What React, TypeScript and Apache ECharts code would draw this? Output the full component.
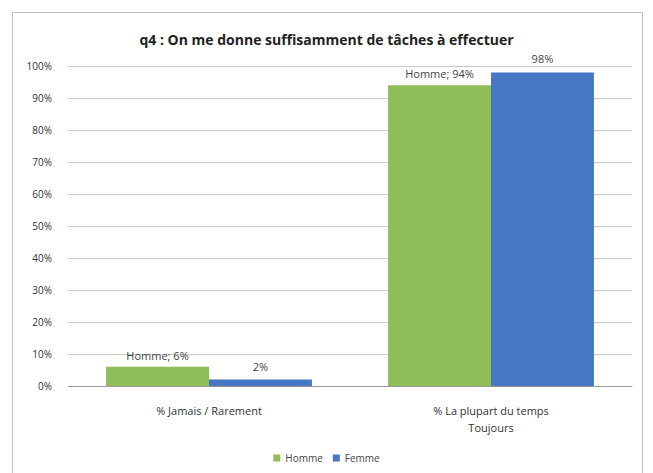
import React, { useEffect, useRef } from "react";
import * as echarts from "echarts";

const categories = ["% Jamais / Rarement", "% La plupart du temps\nToujours"];
const homme = [6, 94];
const femme = [2, 98];
const yTicks = [0, 10, 20, 30, 40, 50, 60, 70, 80, 90, 100];
const title = "q4 : On me donne suffisamment de tâches à effectuer";

const FONT = "'Open Sans', 'Liberation Sans', sans-serif";

export default function App() {
  const ref = useRef<HTMLDivElement>(null);
  useEffect(() => {
    document.body.style.margin = "0";
    const chart = echarts.init(ref.current!, null, { renderer: "svg" });
    chart.setOption({
      animation: false,
      backgroundColor: "#ffffff",
      textStyle: { fontFamily: FONT },
      graphic: [
        {
          type: "rect",
          shape: { x: 12.5, y: 12.5, width: 630, height: 470 },
          style: { fill: "none", stroke: "#bfbfbf", lineWidth: 1 },
          silent: true,
        },
      ],
      title: {
        text: title,
        left: "center",
        top: 27,
        textStyle: { fontFamily: FONT, fontSize: 14, fontWeight: "bold", color: "#222" },
      },
      legend: {
        bottom: 5,
        left: "center",
        itemWidth: 7,
        itemHeight: 7,
        itemGap: 10,
        icon: "rect",
        textStyle: { fontFamily: FONT, fontSize: 10, color: "#444" },
        data: ["Homme", "Femme"],
      },
      grid: { left: 68, right: 21, top: 66, bottom: 87, containLabel: false },
      xAxis: {
        type: "category",
        data: categories,
        axisLine: { lineStyle: { color: "#999" } },
        axisTick: { show: false },
        axisLabel: { fontFamily: FONT, fontSize: 11, color: "#333", margin: 16, lineHeight: 17 },
      },
      yAxis: {
        type: "value",
        min: 0,
        max: 100,
        interval: 10,
        axisLine: { show: false },
        axisTick: { show: false },
        splitLine: { lineStyle: { color: "#c8c8c8" } },
        axisLabel: {
          fontFamily: FONT,
          fontSize: 10,
          color: "#333",
          margin: 16,
          formatter: (v: number) => (yTicks.includes(v) ? v + "%" : ""),
        },
      },
      series: [
        {
          name: "Homme",
          type: "bar",
          data: homme,
          barGap: "0%",
          barCategoryGap: "27%",
          itemStyle: { color: "#8fbd58" },
          label: {
            show: true,
            position: "top",
            distance: 6,
            fontFamily: FONT,
            fontSize: 11,
            color: "#444",
            formatter: (p: any) => "Homme; " + p.value + "%",
          },
        },
        {
          name: "Femme",
          type: "bar",
          data: femme,
          itemStyle: { color: "#4677c2" },
          label: {
            show: true,
            position: "top",
            distance: 8,
            fontFamily: FONT,
            fontSize: 11,
            color: "#444",
            formatter: (p: any) => p.value + "%",
          },
        },
      ],
    });
    return () => chart.dispose();
  }, []);
  return <div ref={ref} style={{ width: 653, height: 473 }} />;
}
